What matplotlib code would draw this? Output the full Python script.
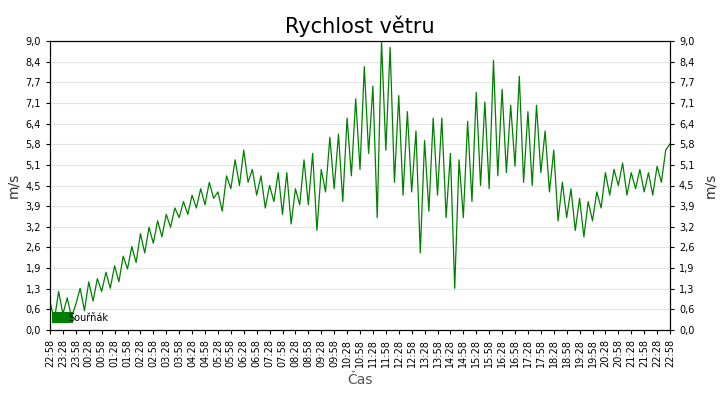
import matplotlib.pyplot as plt
import numpy as np

# wind speed, one reading every 10 minutes from 22:58 to 22:58 next day
speed = [
    0.9, 0.3, 1.2, 0.5, 1.0, 0.4,
    0.8, 1.3, 0.6, 1.5, 0.9, 1.6,
    1.2, 1.8, 1.3, 2.0, 1.5, 2.3,
    1.9, 2.6, 2.1, 3.0, 2.4, 3.2,
    2.7, 3.4, 2.9, 3.6, 3.2, 3.8,
    3.5, 4.0, 3.6, 4.2, 3.8, 4.4,
    3.9, 4.6, 4.1, 4.3, 3.7, 4.8,
    4.4, 5.3, 4.5, 5.6, 4.6, 5.0,
    4.2, 4.8, 3.8, 4.5, 4.0, 4.9,
    3.6, 4.9, 3.3, 4.4, 3.9, 5.3,
    3.9, 5.5, 3.1, 5.0, 4.3, 6.0,
    4.4, 6.1, 4.0, 6.6, 4.8, 7.2,
    5.0, 8.2, 5.5, 7.6, 3.5, 9.0,
    5.6, 8.8, 4.6, 7.3, 4.2, 6.8,
    4.3, 6.2, 2.4, 5.9, 3.7, 6.6,
    4.2, 6.6, 3.5, 5.5, 1.3, 5.3,
    3.5, 6.5, 4.0, 7.4, 4.5, 7.1,
    4.4, 8.4, 4.8, 7.5, 4.9, 7.0,
    5.1, 7.9, 4.6, 6.8, 4.5, 7.0,
    4.9, 6.2, 4.3, 5.6, 3.4, 4.6,
    3.5, 4.4, 3.1, 4.1, 2.9, 4.0,
    3.4, 4.3, 3.8, 4.9, 4.2, 5.0,
    4.5, 5.2, 4.2, 4.9, 4.4, 5.0,
    4.3, 4.9, 4.2, 5.1, 4.6, 5.6,
    5.8,
]
minutes = np.arange(len(speed)) * 10

tick_labels = []
for i in range(49):
    m = (22 * 60 + 58 + i * 30) % (24 * 60)
    tick_labels.append("%02d:%02d" % (m // 60, m % 60))
y_ticks = np.linspace(0, 9, 15)
y_labels = [("%.1f" % v).replace(".", ",") for v in y_ticks]

fig = plt.figure(figsize=(7.2, 4.0), dpi=100)
ax = fig.add_axes([50 / 720, 70 / 400, 620 / 720, 289 / 400])
ax.plot(minutes, speed, color="#008000", lw=0.9, label="Souřňák")
ax.set_xlim(0, 1440)
ax.set_ylim(0, 9)
ax.set_xticks(np.arange(49) * 30)
ax.set_xticklabels(tick_labels, rotation=90, fontsize=7)
ax.set_yticks(y_ticks)
ax.set_yticklabels(y_labels, fontsize=7)
ax.tick_params(length=3)
ax.grid(axis="y", color="#e6e6e6", lw=0.8)
ax.set_axisbelow(True)
ax.set_ylabel("m/s", fontsize=10, color="#333333")

axr = ax.twinx()
axr.set_ylim(0, 9)
axr.set_yticks(y_ticks)
axr.set_yticklabels(y_labels, fontsize=7)
axr.tick_params(length=3)
axr.set_ylabel("m/s", fontsize=10, color="#333333", labelpad=6)

ax.set_xlabel("Čas", fontsize=10, color="#555555")
ax.set_title("Rychlost větru", fontsize=15)
ax.legend(loc="lower left", fontsize=7, frameon=False, handlelength=1,
          handleheight=1, borderpad=0.2, handletextpad=0.2)
for h in ax.get_legend().legend_handles:
    h.set_linewidth(8)
plt.savefig("out.png")
